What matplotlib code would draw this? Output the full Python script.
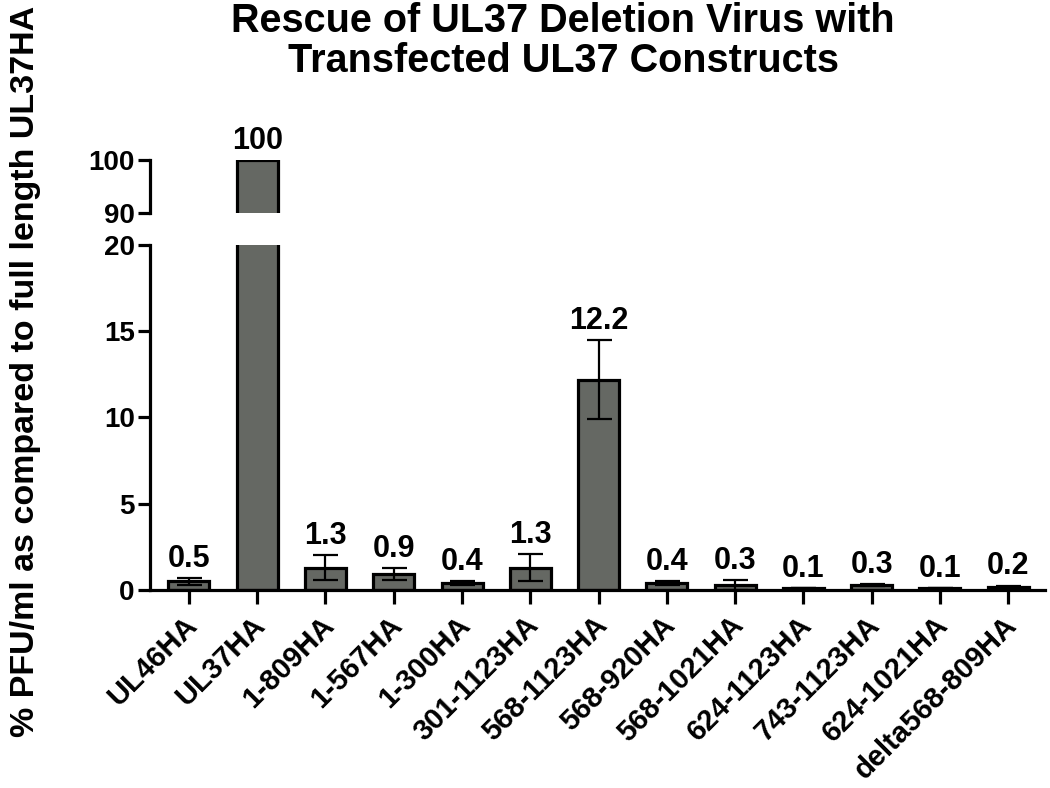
import matplotlib
matplotlib.use('Agg')
import matplotlib.pyplot as plt
from matplotlib.transforms import ScaledTranslation
import numpy as np

plt.rcParams['font.family'] = ['Liberation Sans', 'DejaVu Sans']
plt.rcParams['font.weight'] = 'bold'

constructs = ['UL46HA', 'UL37HA', '1-809HA', '1-567HA', '1-300HA', '301-1123HA',
              '568-1123HA', '568-920HA', '568-1021HA', '624-1123HA', '743-1123HA',
              '624-1021HA', 'delta568-809HA']
pfu_pct = [0.5, 100, 1.3, 0.9, 0.4, 1.3, 12.2, 0.4, 0.3, 0.1, 0.3, 0.1, 0.2]
pfu_err = [0.2, 0.0, 0.7, 0.35, 0.12, 0.8, 2.3, 0.1, 0.28, 0.0, 0.05, 0.0, 0.05]
value_labels = ['0.5', '100', '1.3', '0.9', '0.4', '1.3', '12.2', '0.4', '0.3',
                '0.1', '0.3', '0.1', '0.2']

LW = 2.3
BAR_COLOR = '#656863'

fig = plt.figure(figsize=(10.5, 7.88), dpi=100)
ax_lo = fig.add_axes([0.1429, 0.2513, 0.8524, 0.4378])
ax_hi = fig.add_axes([0.1429, 0.7297, 0.8524, 0.0673])

x = np.arange(len(constructs))
for ax in (ax_lo, ax_hi):
    ax.bar(x, pfu_pct, width=0.6, color=BAR_COLOR, edgecolor='black', linewidth=LW, zorder=2)
    ax.errorbar(x, pfu_pct, yerr=pfu_err, fmt='none', ecolor='black',
                elinewidth=1.6, capsize=9, capthick=1.6, zorder=3)
    ax.set_xlim(-0.57, 12.54)
    for s in ('top', 'right'):
        ax.spines[s].set_visible(False)
    ax.spines['left'].set_linewidth(LW)
    ax.spines['bottom'].set_linewidth(LW)
    ax.tick_params(axis='y', direction='out', length=9, width=LW, labelsize=20, pad=2)
    ax.tick_params(axis='y', which='minor', direction='in', length=7, width=LW)

ax_lo.set_ylim(0, 20)
ax_lo.set_yticks([0, 5, 10, 15, 20])
ax_lo.set_yticks([20], minor=True)
ax_lo.set_xticks(x)
ax_lo.set_xticklabels(constructs, rotation=45, ha='right', va='center',
                      rotation_mode='anchor')
ax_lo.tick_params(axis='x', direction='out', length=10, width=LW, labelsize=21, pad=16)
# nudge rotated labels a little right and up, like the original
shift = ScaledTranslation(0.04, 0.05, fig.dpi_scale_trans)
for lab in ax_lo.get_xticklabels():
    lab.set_transform(lab.get_transform() + shift)

ax_hi.set_ylim(90, 100)
ax_hi.set_yticks([90, 100])
ax_hi.set_yticks([90], minor=True)
ax_hi.spines['bottom'].set_visible(False)
ax_hi.set_xticks([])

# value labels above bars / error caps
for xi, v, e, lab in zip(x, pfu_pct, pfu_err, value_labels):
    target = ax_hi if v > 20 else ax_lo
    target.annotate(lab, (xi, v + e), xytext=(0, 3), textcoords='offset points',
                    ha='center', va='bottom', fontsize=22, annotation_clip=False)

fig.text(563 / 1050, 1 - 2 / 788,
         'Rescue of UL37 Deletion Virus with\nTransfected UL37 Constructs',
         ha='center', va='top', fontsize=28.5, linespacing=1.08)
fig.text(0.024, 0.528, '% PFU/ml as compared to full length UL37HA',
         rotation=90, ha='center', va='center', fontsize=24.5)

fig.savefig('out.png', dpi=100)
